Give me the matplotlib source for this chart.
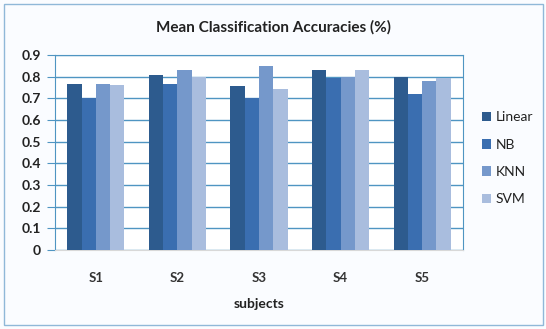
import matplotlib
matplotlib.use("Agg")
import matplotlib.pyplot as plt
import numpy as np
from matplotlib.patches import Rectangle

subjects = ["S1", "S2", "S3", "S4", "S5"]
series_names = ["Linear", "NB", "KNN", "SVM"]
linear = [0.765, 0.808, 0.755, 0.832, 0.800]
nb = [0.700, 0.765, 0.700, 0.792, 0.718]
knn = [0.765, 0.833, 0.850, 0.800, 0.780]
svm = [0.760, 0.800, 0.743, 0.832, 0.792]
yticks = [0, 0.1, 0.2, 0.3, 0.4, 0.5, 0.6, 0.7, 0.8, 0.9]

colors = ["#2D5B8E", "#3A6EB0", "#7598CB", "#A9BDDE"]
grid_c = "#4F95C2"

plt.rcParams['font.family'] = ['Lato', 'DejaVu Sans']
fig = plt.figure(figsize=(5.46, 3.29), dpi=100)
fig.patch.set_facecolor("#FAFCFF")
fig.patches.append(Rectangle((0.008, 0.012), 0.987, 0.975, transform=fig.transFigure,
                             fill=False, edgecolor="#8FB8D8", linewidth=1.0))

ax = fig.add_axes([55/546, 1-250/329, (463-55)/546, (250-55)/329])
ax.set_facecolor("white")
x = np.arange(len(subjects))
w = 0.175
for i, (name, vals) in enumerate(zip(series_names, [linear, nb, knn, svm])):
    ax.bar(x + (i - 1.5) * w, vals, w, color=colors[i], label=name, zorder=3)

ax.set_xlim(-0.5, len(subjects) - 0.5)
ax.set_ylim(0, 0.9)
ax.set_yticks(yticks)
ax.set_yticklabels([f"{t:g}" for t in yticks], fontsize=10, fontweight='bold', color="#222222")
ax.set_xticks(x)
ax.set_xticklabels(subjects, fontsize=9.5, fontweight='bold', color="#333333")
ax.yaxis.grid(True, color=grid_c, linewidth=1.0, zorder=0)
ax.tick_params(axis='y', length=6, color=grid_c, pad=4)
ax.tick_params(axis='x', length=0, pad=16)
for s in ["top", "right", "left"]:
    ax.spines[s].set_color(grid_c)
ax.spines["bottom"].set_color("#D8D8D8")
ax.set_xlabel("subjects", fontsize=10, fontweight='bold', color="#222222", labelpad=10)

fig.text(0.5, 1-27/329, "Mean Classification Accuracies (%)", ha='center', va='center',
         fontsize=11, fontweight='bold', color="#222222")

leg = ax.legend(loc='center left', bbox_to_anchor=(1.015, 0.47), frameon=False,
                fontsize=10, handlelength=0.7, handleheight=0.7, handletextpad=0.3,
                labelspacing=1.1)
for t in leg.get_texts():
    t.set_color("#222222")

fig.savefig("out.png", dpi=100, facecolor=fig.get_facecolor())
